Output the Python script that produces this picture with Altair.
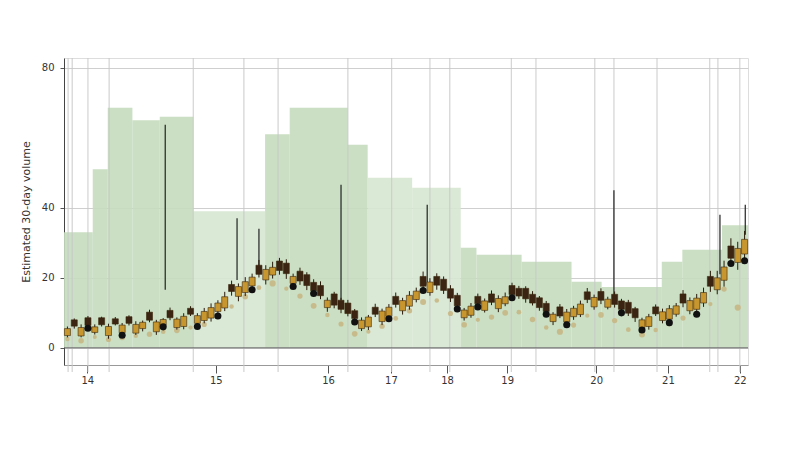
import altair as alt
import pandas as pd

# ---------------- data ----------------
closes = [5.5, 6.2, 5.8, 6.4, 6.0, 6.6, 6.1, 6.8, 6.5, 7.0,
          6.7, 7.3, 7.9, 7.4, 8.1, 8.6, 8.2, 9.0, 9.6, 9.2,
          10.4, 11.5, 12.8, 14.6, 16.1, 17.5, 18.9, 20.2, 21.0, 22.4,
          23.0, 22.1, 21.2, 20.4, 19.1, 17.8, 16.3, 14.9, 13.6, 12.2,
          11.0, 9.8, 8.4, 7.9, 8.8, 9.6, 10.5, 11.6, 12.4, 13.5,
          15.0, 16.2, 17.6, 18.8, 17.9, 16.4, 14.2, 12.0, 10.8, 11.9,
          12.6, 13.4, 13.0, 14.1, 14.6, 15.2, 14.8, 14.0, 12.8, 11.5,
          10.4, 9.6, 9.1, 10.2, 11.3, 12.5, 13.8, 14.4, 13.6, 13.9,
          12.4, 11.0, 9.9, 8.6, 8.0, 8.9, 9.7, 10.3, 11.2, 12.0,
          12.8, 13.5, 14.2, 15.8, 17.6, 20.0, 23.1, 25.6, 28.4, 31.0]
# open minus close for each candle
body = [-2.0, 1.8, -2.4, 2.2, -1.6, 2.0, -2.6, 1.5, -2.2, 1.9,
        -2.5, -1.8, 2.3, -2.8, -1.6, 2.1, -2.4, -2.9, 1.7, -2.2,
        -2.6, -3.0, -2.4, -3.2, 2.0, -2.8, -3.1, -2.5, 2.6, -3.0,
        -2.2, 2.7, 3.0, -2.0, 2.8, 3.1, 2.4, 2.9, -2.1, 3.2,
        2.6, 3.0, 2.2, -2.4, -2.8, 2.0, -3.0, -2.6, 2.3, -2.9,
        -3.1, -2.4, 2.8, -3.0, 2.5, 3.2, 2.7, 3.0, -2.2, -2.6,
        2.1, -2.7, 2.4, -2.9, -2.0, 2.6, 2.2, 3.0, 2.5, 2.8,
        2.3, -2.1, 2.6, -2.8, -2.4, -3.0, 2.2, -2.7, 2.5, -2.3,
        2.9, 2.4, 3.1, 2.6, -2.2, -2.8, 2.0, -2.5, -3.0, -2.4,
        2.6, -2.9, -3.2, -3.0, 2.8, -3.4, -3.8, 3.5, -4.0, -4.2]
hi_wick = [0.6, 0.4, 0.9, 0.5, 0.7, 0.3, 0.8, 0.5, 0.6, 0.4,
           0.9, 0.5, 0.7, 0.6, 0.4, 0.8, 0.5, 0.9, 0.6, 0.7,
           1.0, 1.2, 0.8, 1.4, 1.1, 0.9, 1.3, 1.0, 1.5, 1.2,
           1.6, 0.9, 1.1, 0.8, 1.0, 0.7, 0.9, 1.2, 0.8, 0.6,
           0.7, 0.9, 0.5, 0.8, 0.6, 1.0, 0.7, 0.9, 1.1, 0.8,
           1.2, 1.0, 1.4, 1.1, 0.9, 0.8, 1.0, 0.7, 0.6, 0.9,
           0.8, 0.7, 1.0, 0.9, 1.2, 0.8, 0.7, 0.6, 0.9, 0.5,
           0.7, 0.6, 0.8, 0.9, 0.7, 1.0, 1.1, 0.8, 0.9, 0.7,
           0.8, 0.6, 0.7, 0.5, 0.6, 0.8, 0.7, 0.9, 1.0, 0.8,
           1.1, 0.9, 1.2, 1.4, 1.6, 2.0, 1.8, 2.2, 1.9, 2.4]
lo_wick = [0.5, 0.7, 0.4, 0.8, 0.6, 0.5, 0.9, 0.4, 0.7, 0.6,
           0.5, 0.8, 0.6, 0.9, 0.5, 0.7, 0.6, 0.8, 0.5, 0.9,
           0.8, 1.0, 1.3, 0.9, 1.2, 1.4, 1.0, 1.1, 0.9, 1.3,
           1.0, 1.2, 1.5, 0.9, 1.1, 1.3, 0.8, 1.0, 1.2, 0.9,
           1.1, 0.8, 1.0, 0.7, 0.9, 0.8, 1.0, 0.7, 0.9, 1.1,
           1.0, 0.8, 1.2, 0.9, 1.3, 1.0, 1.1, 0.9, 0.8, 0.7,
           0.9, 0.6, 0.8, 1.0, 0.7, 0.9, 0.8, 1.1, 0.7, 0.9,
           0.8, 1.0, 0.6, 0.8, 0.9, 0.7, 1.0, 0.8, 1.1, 0.6,
           0.9, 1.0, 0.8, 1.2, 0.7, 0.9, 0.6, 0.8, 1.0, 0.7,
           1.2, 1.0, 1.4, 1.1, 1.6, 1.3, 1.8, 1.5, 2.1, 1.9]

dot_idx = list(range(0, 100, 2))
dot_val = [2.5, 2.0, 3.1, 2.4, 3.0, 3.4, 3.9, 4.6, 5.0, 5.8,
           6.7, 9.2, 11.8, 14.6, 17.2, 18.4, 16.9, 14.8, 12.0, 9.4,
           6.8, 4.0, 4.6, 6.2, 8.4, 10.6, 13.1, 13.5, 9.8, 6.6,
           8.0, 8.8, 10.0, 10.2, 8.1, 5.8, 4.6, 6.5, 9.2, 9.4,
           7.8, 5.2, 3.8, 5.1, 6.9, 8.5, 9.6, 12.5, 16.8, 11.5]
dot_size = [20, 30, 16, 26, 34, 18, 28, 22, 32, 18,
            26, 36, 20, 30, 22, 38, 18, 28, 34, 20,
            26, 32, 18, 28, 22, 30, 36, 20, 26, 32,
            18, 28, 34, 22, 30, 20, 38, 26, 18, 32,
            28, 22, 36, 20, 30, 26, 34, 18, 28, 38]

blob_idx = [3, 8, 14, 19, 22, 27, 33, 36, 42, 47, 52, 57, 60, 65,
            70, 73, 81, 84, 88, 92, 97, 99]

vol_x0 = [0, 4.2, 6.4, 10, 14, 18.9, 29.4, 33, 41.5, 44.4, 50.9,
          58, 60.3, 66.9, 74.2, 78.6, 87.4, 90.4, 96.2]
vol_x1 = [4.2, 6.4, 10, 14, 18.9, 29.4, 33, 41.5, 44.4, 50.9, 58,
          60.3, 66.9, 74.2, 78.6, 87.4, 90.4, 96.2, 100]
vol_v = [33, 51, 68.6, 65, 66, 39, 61, 68.6, 58, 48.6, 45.7,
         28.6, 26.6, 24.6, 18.9, 17.4, 24.6, 28, 35]
vol_tone = ["a", "a", "a", "a", "a", "b", "a", "a", "a", "b", "b",
            "a", "a", "a", "a", "a", "a", "a", "a"]

grey_x = [0.6, 1.2, 3.5, 6.6, 18.9, 26.3, 31.3, 41.5, 47.9, 53.5,
          56.4, 65.4, 69, 77.6, 80.4, 86.7, 94.4, 95.6, 98.8]
dark_x = [14.8, 25.3, 28.5, 40.5, 53.1, 80.4, 95.9, 99.6]
dark_top = [63.7, 37, 34, 46.6, 40.9, 45, 38, 40.9]
dark_bot = [16.6, 19.4, 22, 13.7, 18, 13.7, 21, 32.3]

x_tick_pos = [3.4, 22.2, 38.6, 47.8, 56, 64.8, 77.8, 88.3, 98.8]
x_tick_lab = ["14", "15", "16", "17", "18", "19", "20", "21", "22"]
y_ticks = [0, 20, 40, 80]
y_title = "Estimated 30-day volume"

# ---------------- tables ----------------
tone_col = {"a": "#c4dbbd", "b": "#d6e6d1"}
rows = []
for i, c in enumerate(closes):
    o = c + body[i]
    rows.append({
        "x0": i + 0.06, "x1": i + 0.94, "xm": i + 0.5,
        "open": o, "close": c,
        "high": max(o, c) + hi_wick[i], "low": min(o, c) - lo_wick[i],
        "fillc": "#c8962e" if c >= o else "#3b2412",
    })
candles = pd.DataFrame(rows)
dots = pd.DataFrame({"xm": [i + 0.5 for i in dot_idx], "v": dot_val, "s": dot_size})
blobs = candles.iloc[blob_idx][["xm", "low"]]
vol = pd.DataFrame({"x0": vol_x0, "x1": vol_x1, "v": vol_v,
                    "fillc": [tone_col[t] for t in vol_tone]})
greys = pd.DataFrame({"x": grey_x})
darks = pd.DataFrame({"x": dark_x, "top": dark_top, "bot": dark_bot})
zero = pd.DataFrame({"y": [0]})

xs = alt.Scale(domain=[0, 100], nice=False, zero=False)
ys = alt.Scale(domain=[-4.9, 82.8], nice=False, zero=False)

lab_expr = "{" + ",".join(f"'{p}':'{l}'" for p, l in zip(x_tick_pos, x_tick_lab)) + "}[''+datum.value]"

x_axis = alt.Axis(values=x_tick_pos, labelExpr=lab_expr, grid=False, tickSize=8,
                  tickColor="#555", domainColor="#999", labelFontSize=10,
                  labelColor="#333", labelFont="DejaVu Sans", title=None, labelPadding=2)
y_axis = alt.Axis(values=y_ticks, grid=True, gridColor="#cfcfcf", tickSize=4,
                  tickColor="#555", domainColor="#444", labelFontSize=10,
                  labelColor="#333", labelFont="DejaVu Sans", title=y_title,
                  titleFontSize=11, titleFontWeight="normal", titleColor="#333",
                  titleFont="DejaVu Sans", titlePadding=10, labelPadding=6)

vol_layer = alt.Chart(vol).mark_rect(opacity=0.9).encode(
    x=alt.X("x0:Q", scale=xs, axis=x_axis), x2="x1:Q",
    y=alt.Y("v:Q", scale=ys, axis=y_axis), y2=alt.datum(0),
    color=alt.Color("fillc:N", scale=None, legend=None),
)

grey_rules = alt.Chart(greys).mark_rule(color="#c8c8c8", strokeWidth=1.2, opacity=0.8).encode(
    x=alt.X("x:Q", scale=xs), y=alt.value(0), y2=alt.value(314)
)
zero_rule = alt.Chart(zero).mark_rule(color="#666", strokeWidth=1).encode(y=alt.Y("y:Q", scale=ys))

dark_rules = alt.Chart(darks).mark_rule(color="#222", strokeWidth=1.2).encode(
    x=alt.X("x:Q", scale=xs), y=alt.Y("top:Q", scale=ys), y2="bot:Q"
)

dot_layer = alt.Chart(dots).mark_circle(color="#c8b785", opacity=0.9).encode(
    x=alt.X("xm:Q", scale=xs), y=alt.Y("v:Q", scale=ys),
    size=alt.Size("s:Q", scale=None, legend=None),
)

wicks = alt.Chart(candles).mark_rule(color="#2a1a0a", strokeWidth=1).encode(
    x=alt.X("xm:Q", scale=xs), y=alt.Y("low:Q", scale=ys), y2="high:Q"
)
bodies = alt.Chart(candles).mark_bar(stroke="#3a260e", strokeWidth=0.6).encode(
    x=alt.X("x0:Q", scale=xs), x2="x1:Q",
    y=alt.Y("open:Q", scale=ys), y2="close:Q",
    fill=alt.Fill("fillc:N", scale=None, legend=None),
)
blob_layer = alt.Chart(blobs).mark_circle(color="#111", size=50, opacity=1).encode(
    x=alt.X("xm:Q", scale=xs), y=alt.Y("low:Q", scale=ys)
)

chart = alt.layer(vol_layer, grey_rules, zero_rule, dark_rules, dot_layer, wicks, bodies, blob_layer).properties(
    width=684, height=307,
    autosize=alt.AutoSizeParams(type="none"),
    padding={"left": 56, "top": 50, "right": 44, "bottom": 76},
).configure_view(stroke=None).configure(background="white")

chart.save("out.html", embed_options={"renderer": "svg", "actions": False})
